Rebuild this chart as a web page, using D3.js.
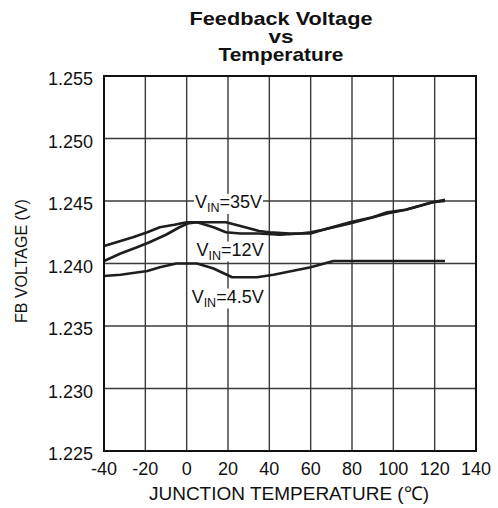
<!DOCTYPE html>
<html>
<head>
    <title>Feedback Voltage vs Temperature</title>
    <script src="https://d3js.org/d3.v7.min.js"></script>
    <style>
        body { margin: 0; background: #fff; }
        text { font-family: "Liberation Sans", Arial, sans-serif; fill: #111; }
        .grid line { stroke: #3a3a3a; stroke-width: 1.4px; }
        .curve { fill: none; stroke: #1e1e1e; stroke-width: 2.6px; stroke-linejoin: round; }
    </style>
</head>
<body>
    <svg width="498" height="508"></svg>
    <script>
        const xTicks = [-40, -20, 0, 20, 40, 60, 80, 100, 120, 140];
        const yTicks = [1.225, 1.230, 1.235, 1.240, 1.245, 1.250, 1.255];

        const temp35 = [-40, -32, -26, -19, -13, -6, 0, 10, 19, 26, 35, 40, 50, 60, 66, 79, 88, 97, 106, 119, 125];
        const fb35   = [1.2414, 1.2418, 1.2421, 1.2425, 1.2429, 1.2431, 1.2433, 1.2433, 1.2433, 1.2430, 1.2426, 1.2425, 1.2424, 1.2424, 1.2427, 1.2432, 1.2436, 1.2440, 1.2443, 1.2449, 1.2450];

        const temp12 = [-40, -32, -24, -18, -10, -3.5, 0.5, 5, 13, 19, 26, 35, 45, 55, 60, 66, 79, 90, 97, 106, 119, 125];
        const fb12   = [1.2402, 1.2408, 1.2413, 1.2417, 1.2423, 1.2429, 1.2432, 1.2433, 1.2429, 1.2425, 1.2424, 1.2424, 1.2423, 1.2424, 1.2425, 1.2427, 1.2433, 1.2437, 1.2441, 1.2443, 1.2449, 1.2451];

        const temp45 = [-40, -32, -19, -13, -5, 5, 13, 22, 34, 42, 48, 60, 71, 90, 125];
        const fb45   = [1.2390, 1.2391, 1.2394, 1.2397, 1.2400, 1.2400, 1.2396, 1.2389, 1.2389, 1.2391, 1.2393, 1.2397, 1.2402, 1.2402, 1.2402];

        const series = [
            {label: "35V", t: temp35, v: fb35, lx: 4, ly: 1.24445},
            {label: "12V", t: temp12, v: fb12, lx: 4.8, ly: 1.24064},
            {label: "4.5V", t: temp45, v: fb45, lx: 2.4, ly: 1.23688}
        ];

        const svg = d3.select("svg");
        const mLeft = 104, mRight = 476, mTop = 76, mBottom = 451;

        const x = d3.scaleLinear().domain([-40, 140]).range([mLeft, mRight]);
        const y = d3.scaleLinear().domain([1.225, 1.255]).range([mBottom, mTop]);

        // grid
        const grid = svg.append("g").attr("class", "grid");
        grid.selectAll(".vx").data(xTicks.slice(1, -1)).enter().append("line")
            .attr("x1", d => x(d)).attr("x2", d => x(d))
            .attr("y1", mTop).attr("y2", mBottom);
        grid.selectAll(".hy").data(yTicks.slice(1, -1)).enter().append("line")
            .attr("x1", mLeft).attr("x2", mRight)
            .attr("y1", d => y(d)).attr("y2", d => y(d));

        // curves
        const line = d3.line().x(d => x(d[0])).y(d => y(d[1]));
        svg.selectAll(".curve").data(series).enter().append("path")
            .attr("class", "curve")
            .attr("d", s => line(s.t.map((t, i) => [t, s.v[i]])));

        // curve labels with white box behind
        series.forEach(s => {
            const g = svg.append("g");
            const bg = g.append("rect").attr("fill", "#fff");
            const txt = g.append("text")
                .attr("x", x(s.lx))
                .attr("y", y(s.ly))
                .style("font-size", "18px");
            txt.append("tspan").text("V");
            txt.append("tspan").attr("dy", 4).style("font-size", "12.5px").text("IN");
            txt.append("tspan").attr("dy", -4).text("=" + s.label);
            const b = txt.node().getBBox();
            bg.attr("x", b.x - 1).attr("y", b.y + 2).attr("width", b.width + 2).attr("height", b.height - 3);
        });

        // border
        svg.append("rect")
            .attr("x", mLeft).attr("y", mTop)
            .attr("width", mRight - mLeft).attr("height", mBottom - mTop)
            .attr("fill", "none").attr("stroke", "#111").attr("stroke-width", 2);

        // tick labels
        svg.selectAll(".xt").data(xTicks).enter().append("text")
            .attr("x", d => x(d)).attr("y", 475)
            .attr("text-anchor", "middle")
            .style("font-size", "18px")
            .text(d => d);
        svg.selectAll(".yt").data(yTicks).enter().append("text")
            .attr("x", 93).attr("y", d => y(d) + 3)
            .attr("dy", "0.35em")
            .attr("text-anchor", "end")
            .style("font-size", "18px")
            .text(d => d3.format(".3f")(d));

        // axis titles
        svg.append("text")
            .attr("x", 289).attr("y", 500)
            .attr("text-anchor", "middle")
            .style("font-size", "19px")
            .text("JUNCTION TEMPERATURE (\u2103)");
        svg.append("text")
            .attr("transform", "translate(27,261) rotate(-90)")
            .attr("text-anchor", "middle")
            .style("font-size", "16px")
            .text("FB VOLTAGE (V)");

        // title
        const title = ["Feedback Voltage", "vs", "Temperature"];
        const titleWidth = [183, 25, 125];
        svg.selectAll(".title").data(title).enter().append("text")
            .attr("x", 281).attr("y", (d, i) => 25 + i * 18)
            .attr("text-anchor", "middle")
            .attr("textLength", (d, i) => titleWidth[i])
            .attr("lengthAdjust", "spacingAndGlyphs")
            .style("font-size", "18.5px").style("font-weight", "bold")
            .text(d => d);
    </script>
</body>
</html>
